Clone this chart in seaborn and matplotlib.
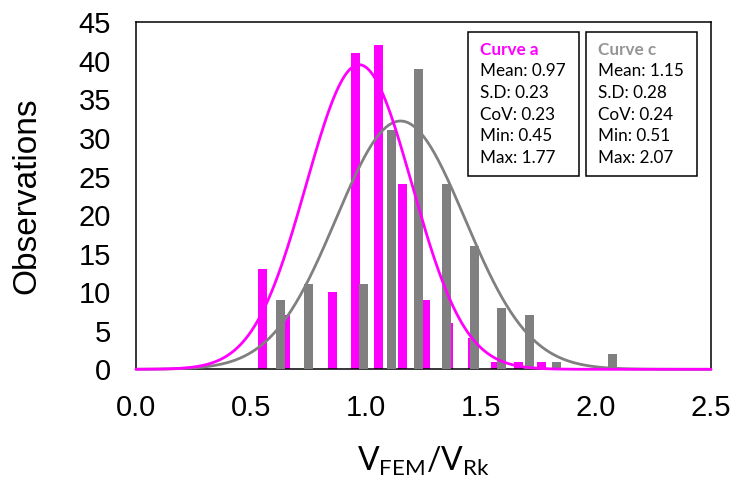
import numpy as np
import pandas as pd
import matplotlib
matplotlib.use("Agg")
import matplotlib.pyplot as plt
import seaborn as sns
from matplotlib.patches import Rectangle

# ------------------------------------------
# Data
# ------------------------------------------
# Curve a (magenta) - bar centres and counts
a_x = [0.550, 0.651, 0.752, 0.854, 0.955, 1.056, 1.157, 1.258, 1.360, 1.461, 1.562, 1.663, 1.764]
a_n = [13, 7, 0, 10, 41, 42, 24, 9, 6, 4, 1, 1, 1]

# Curve c (grey) - bar centres and counts
c_x = [0.63, 0.75, 0.87, 0.99, 1.11, 1.23, 1.35, 1.47, 1.59, 1.71, 1.83, 1.95, 2.07]
c_n = [9, 11, 0, 11, 31, 39, 24, 16, 8, 7, 1, 0, 2]

# fitted normal curves (mean, s.d. from the boxes, peak height from the plot)
a_mean, a_sd, a_peak = 0.97, 0.23, 39.5
c_mean, c_sd, c_peak = 1.15, 0.28, 32.2

# statistics boxes
a_stats = ["Mean: 0.97", "S.D: 0.23", "CoV: 0.23", "Min: 0.45", "Max: 1.77"]
c_stats = ["Mean: 1.15", "S.D: 0.28", "CoV: 0.24", "Min: 0.51", "Max: 2.07"]

x_ticks = [0.0, 0.5, 1.0, 1.5, 2.0, 2.5]
y_ticks = list(range(0, 50, 5))

MAGENTA = "#FF00FF"
GREY = "#808080"

# ------------------------------------------
# Style
# ------------------------------------------
sns.set_style("white")
plt.rcParams["font.family"] = ["Liberation Sans", "DejaVu Sans"]
plt.rcParams["mathtext.default"] = "regular"
plt.rcParams["text.color"] = "black"
plt.rcParams["axes.labelcolor"] = "black"
plt.rcParams["xtick.color"] = "black"
plt.rcParams["ytick.color"] = "black"

fig = plt.figure(figsize=(7.4, 4.84), dpi=100)
W, H = 740, 484
ax = fig.add_axes([136 / W, 1 - 369.3 / H, (711 - 136) / W, (369.3 - 22.3) / H])

# ------------------------------------------
# Bars (magenta first, grey drawn over it)
# ------------------------------------------
df_a = pd.DataFrame({"x": a_x, "n": a_n})
df_c = pd.DataFrame({"x": c_x, "n": c_n})

sns.barplot(data=df_a, x="x", y="n", native_scale=True, width=0.39,
            color=MAGENTA, saturation=1, errorbar=None, ax=ax, zorder=2)
sns.barplot(data=df_c, x="x", y="n", native_scale=True, width=0.33,
            color=GREY, saturation=1, errorbar=None, ax=ax, zorder=3)

for p in ax.patches:
    p.set_linewidth(0)

# ------------------------------------------
# Normal curves
# ------------------------------------------
xs = np.linspace(0, 2.5, 400)
curve_a = a_peak * np.exp(-0.5 * ((xs - a_mean) / a_sd) ** 2)
curve_c = c_peak * np.exp(-0.5 * ((xs - c_mean) / c_sd) ** 2)
sns.lineplot(x=xs, y=curve_c, color=GREY, linewidth=2.0, ax=ax, zorder=4)
sns.lineplot(x=xs, y=curve_a, color=MAGENTA, linewidth=2.0, ax=ax, zorder=5)
for ln in ax.lines:
    ln.set_clip_on(False)

# ------------------------------------------
# Axes
# ------------------------------------------
ax.set_xlim(0, 2.5)
ax.set_ylim(0, 45)
ax.set_xticks(x_ticks)
ax.set_xticklabels([f"{t:.1f}" for t in x_ticks])
ax.set_yticks(y_ticks)
ax.tick_params(axis="both", length=0, labelsize=21, pad=18, labelcolor="black")
for s in ax.spines.values():
    s.set_visible(True)
    s.set_color("black")
    s.set_linewidth(1.1)

ax.set_xlabel(r"$\mathregular{V_{FEM}/V_{Rk}}$", fontsize=23, color="black",
              family=["Lato", "DejaVu Sans"], labelpad=16)
ax.set_ylabel("Observations", fontsize=24, color="black", labelpad=26)

# ------------------------------------------
# Stats boxes
# ------------------------------------------
def stats_box(x0, x1, title, title_color, lines):
    y0, y1 = 32.3, 176
    fig.patches.append(Rectangle((x0 / W, 1 - y1 / H), (x1 - x0) / W, (y1 - y0) / H,
                                 transform=fig.transFigure, fill=True, facecolor="white",
                                 edgecolor="black", linewidth=1.1, zorder=10))
    tx = (x0 + 12.5) / W
    fig.text(tx, 1 - 50 / H, title, color=title_color, fontsize=12.3, fontweight="bold",
             family=["Lato", "DejaVu Sans"], va="center", zorder=11)
    for i, t in enumerate(lines):
        fig.text(tx, 1 - (71.5 + 21.6 * i) / H, t, color="black", fontsize=12.3,
                 family=["Lato", "DejaVu Sans"], va="center", zorder=11)


stats_box(467.7, 579, "Curve a", MAGENTA, a_stats)
stats_box(586, 697.3, "Curve c", "#959595", c_stats)

fig.savefig("out.png", dpi=100)
